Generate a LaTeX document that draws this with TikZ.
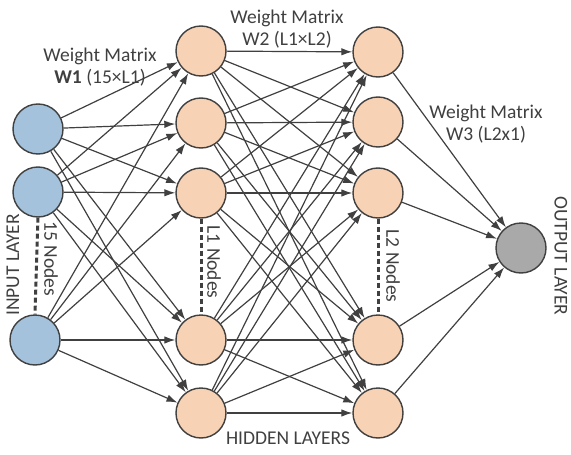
\documentclass[tikz,border=0pt]{standalone}
\usepackage{fontspec}
\setmainfont{Carlito}
\usetikzlibrary{arrows.meta}
\definecolor{linec}{HTML}{404040}
\definecolor{inblue}{HTML}{A4C2DC}
\definecolor{hidpeach}{HTML}{F7D2B4}
\definecolor{outgray}{HTML}{A9A9A9}
\tikzset{
  neuron/.style={circle,draw=linec,line width=1.4pt,minimum size=50pt,inner sep=0pt},
  inneuron/.style={neuron,fill=inblue},
  hidneuron/.style={neuron,fill=hidpeach},
  outneuron/.style={neuron,fill=outgray},
  edge/.style={draw=linec,line width=1.2pt,-{Latex[length=11pt,width=7.5pt]}},
  dots/.style={draw=linec,line width=3pt,dash pattern=on 5pt off 3pt},
  lbl/.style={font=\fontsize{19.5}{22.5}\selectfont,text=linec,inner sep=0pt,align=center},
}
\begin{document}
\begin{tikzpicture}[x=1pt,y=-1pt]
\useasboundingbox (0,0) rectangle (571,455);
% input layer
\node[inneuron] (i1) at (38,129) {};
\node[inneuron] (i2) at (38,192) {};
\node[inneuron] (i3) at (35,340) {};
% hidden layer 1
\node[hidneuron] (h1) at (201,51) {};
\node[hidneuron] (h2) at (201,123) {};
\node[hidneuron] (h3) at (201,193) {};
\node[hidneuron] (h4) at (201,340) {};
\node[hidneuron] (h5) at (201,413) {};
% hidden layer 2
\node[hidneuron] (g1) at (378,52) {};
\node[hidneuron] (g2) at (378,122) {};
\node[hidneuron] (g3) at (378,193) {};
\node[hidneuron] (g4) at (378,340) {};
\node[hidneuron] (g5) at (378,413) {};
% output
\node[outneuron] (o) at (521,248) {};
% edges
\foreach \a in {i1,i2,i3}{
  \foreach \b in {h1,h2,h3,h4,h5}{
    \draw[edge] (\a) -- (\b);
  }
}
\foreach \a in {h1,h2,h3,h4,h5}{
  \foreach \b in {g1,g2,g3,g4,g5}{
    \draw[edge] (\a) -- (\b);
  }
}
\foreach \a in {g1,g2,g3,g4,g5}{
  \draw[edge] (\a) -- (o);
}
% dotted continuation
\draw[dots] (i2.south) -- (i3.north);
\draw[dots] (h3.south) -- (h4.north);
\draw[dots] (g3.south) -- (g4.north);
% labels
\node[lbl,rotate=90] (inl) at (13,265) {INPUT LAYER};
\node[lbl,rotate=-90] (outl) at (561,256) {OUTPUT LAYER};
\node[lbl] (hidl) at (288,438) {HIDDEN LAYERS};
\node[lbl,rotate=-90] (n15) at (51,259) {15 Nodes};
\node[lbl,rotate=-90] (nl1) at (214,262) {L1 Nodes};
\node[lbl,rotate=-90] (nl2) at (393,266) {L2 Nodes};
\node[lbl] (w1) at (100,67) {Weight Matrix\\\textbf{W1} (15×L1)};
\node[lbl] (w2) at (287,29) {Weight Matrix\\W2 (L1×L2)};
\node[lbl] (w3) at (486,124) {Weight Matrix\\W3 (L2x1)};
\end{tikzpicture}
\end{document}
